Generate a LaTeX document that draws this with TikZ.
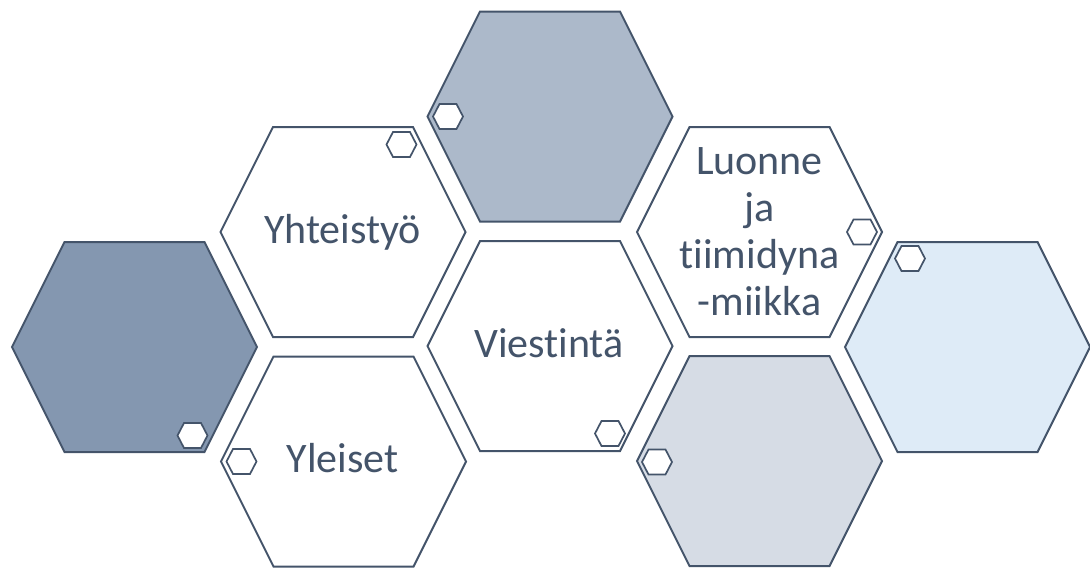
\documentclass[tikz,border=0pt]{standalone}
\usepackage{fontspec}
\setmainfont{Carlito}[Ligatures=NoCommon]
\definecolor{edge}{HTML}{44546A}
\definecolor{fdark}{HTML}{8497B0}
\definecolor{fmid}{HTML}{ACB9CA}
\definecolor{flight}{HTML}{D6DCE5}
\definecolor{fblue}{HTML}{DEEBF7}
\tikzset{
  bighex/.pic={
    \path[draw=edge,line width=2pt,line join=miter,pic actions]
      (-122.5,0) -- (-70,-105) -- (70,-105) -- (122.5,0) -- (70,105) -- (-70,105) -- cycle;
  },
  smallhex/.pic={
    \path[draw=edge,fill=white,line width=1.7pt]
      (-15,0) -- (-8.5,-12.5) -- (8.5,-12.5) -- (15,0) -- (8.5,12.5) -- (-8.5,12.5) -- cycle;
  },
  lbl/.style={text=edge,font=\fontsize{42}{47}\selectfont,inner sep=0pt,align=center}
}
\begin{document}
\begin{tikzpicture}[x=1pt,y=-1pt]
\useasboundingbox (0,0) rectangle (1090,568);
% big hexagons
\pic[fill=fdark]  at (134.5,347)   {bighex};
\pic[fill=white]  at (343,232)     {bighex};
\pic[fill=white]  at (343.5,461.5) {bighex};
\pic[fill=fmid]   at (550,116.5)   {bighex};
\pic[fill=white]  at (550,346)     {bighex};
\pic[fill=white]  at (759.5,232)   {bighex};
\pic[fill=flight] at (759.5,461)   {bighex};
\pic[fill=fblue]  at (967.5,347)   {bighex};
% small hexagons
\pic at (448,116.5)   {smallhex};
\pic at (192.5,435.5) {smallhex};
\pic at (862,232)     {smallhex};
\pic at (910,258.5)   {smallhex};
\pic at (241.5,461.5) {smallhex};
\pic at (401.5,144.5) {smallhex};
\pic at (610,433.5)   {smallhex};
\pic at (657,462)     {smallhex};
% labels
\node[lbl,anchor=base] (yht) at (342.5,243) {Yhteistyö};
\node[lbl,anchor=base] (yle) at (342.5,472) {Yleiset};
\node[lbl,anchor=base] (vie) at (549,357) {Viestintä};
\node[lbl] (luo) at (759.5,232) {Luonne\\ja\\tiimidyna\\-miikka};
\end{tikzpicture}
\end{document}
